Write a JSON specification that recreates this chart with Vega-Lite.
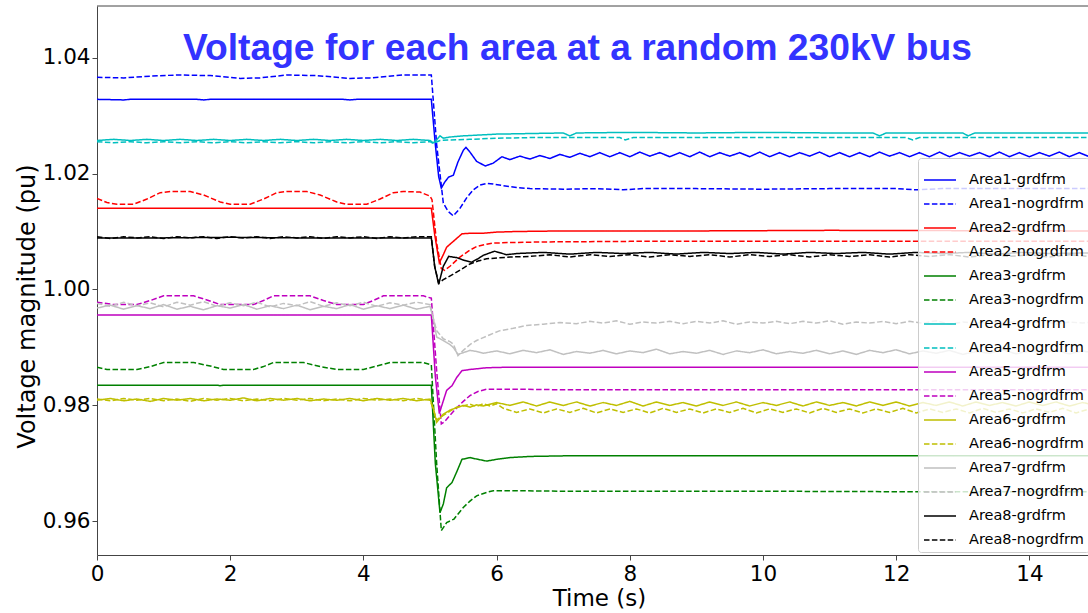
{
  "$schema": "https://vega.github.io/schema/vega-lite/v6.json",
  "width": 991,
  "height": 549,
  "autosize": {"type": "none"},
  "padding": {"left": 97, "top": 6, "right": 0, "bottom": 58},
  "background": "white",
  "config": {"view": {"stroke": null}, "font": "DejaVu Sans"},
  "title": {"text": "Voltage for each area at a random 230kV bus", "font": "Liberation Sans", "fontSize": 37.2, "fontWeight": "bold", "color": "#3333ff", "anchor": "start", "frame": "group", "dx": 86, "offset": -92, "baseline": "alphabetic"},
  "datasets": {
    "a1g": [{"t":0,"v":1.0328},{"t":0.4,"v":1.0327},{"t":0.5,"v":1.0328},{"t":1.5,"v":1.0328},{"t":1.6,"v":1.0327},{"t":1.7,"v":1.0328},{"t":3.7,"v":1.0328},{"t":3.8,"v":1.0327},{"t":3.9,"v":1.0328},{"t":5.02,"v":1.0328},{"t":5.08,"v":1.025},{"t":5.13,"v":1.0195},{"t":5.17,"v":1.0175},{"t":5.22,"v":1.0185},{"t":5.28,"v":1.0194},{"t":5.35,"v":1.0197},{"t":5.42,"v":1.022},{"t":5.5,"v":1.024},{"t":5.54,"v":1.0245},{"t":5.6,"v":1.0237},{"t":5.7,"v":1.0221},{"t":5.83,"v":1.0213},{"t":5.95,"v":1.0218},{"t":6.08,"v":1.0229},{"t":6.2,"v":1.0224},{"t":6.35,"v":1.023},{"t":6.5,"v":1.0225},{"t":6.65,"v":1.0231},{"t":6.8,"v":1.0226},{"t":6.95,"v":1.0233},{"t":7.1,"v":1.0228},{"t":7.25,"v":1.0235},{"t":7.4,"v":1.0229},{"t":7.55,"v":1.0236},{"t":7.7,"v":1.0229},{"t":7.85,"v":1.0236},{"t":8.0,"v":1.0229},{"t":8.15,"v":1.0237},{"t":8.3,"v":1.023},{"t":8.45,"v":1.0236},{"t":8.6,"v":1.0229},{"t":8.75,"v":1.0236},{"t":8.9,"v":1.0229},{"t":9.05,"v":1.0237},{"t":9.2,"v":1.0229},{"t":9.35,"v":1.0236},{"t":9.5,"v":1.023},{"t":9.65,"v":1.0236},{"t":9.8,"v":1.0229},{"t":9.95,"v":1.0237},{"t":10.1,"v":1.0229},{"t":10.25,"v":1.0236},{"t":10.4,"v":1.0229},{"t":10.55,"v":1.0236},{"t":10.7,"v":1.023},{"t":10.85,"v":1.0237},{"t":11.0,"v":1.0229},{"t":11.15,"v":1.0236},{"t":11.3,"v":1.0229},{"t":11.45,"v":1.0236},{"t":11.6,"v":1.0229},{"t":11.75,"v":1.0237},{"t":11.9,"v":1.023},{"t":12.05,"v":1.0236},{"t":12.2,"v":1.0229},{"t":12.35,"v":1.0236},{"t":12.5,"v":1.0229},{"t":12.65,"v":1.0237},{"t":12.8,"v":1.0229},{"t":12.95,"v":1.0236},{"t":13.1,"v":1.023},{"t":13.25,"v":1.0236},{"t":13.4,"v":1.0229},{"t":13.55,"v":1.0237},{"t":13.7,"v":1.0229},{"t":13.85,"v":1.0236},{"t":14.0,"v":1.0229},{"t":14.15,"v":1.0236},{"t":14.3,"v":1.023},{"t":14.45,"v":1.0237},{"t":14.6,"v":1.0229},{"t":14.75,"v":1.0236},{"t":14.9,"v":1.0229}],
    "a1n": [{"t":0,"v":1.0366},{"t":0.4,"v":1.0365},{"t":0.8,"v":1.0368},{"t":1.2,"v":1.037},{"t":1.7,"v":1.0369},{"t":2.15,"v":1.0364},{"t":2.45,"v":1.0365},{"t":2.85,"v":1.037},{"t":3.3,"v":1.0369},{"t":3.8,"v":1.0364},{"t":4.1,"v":1.0365},{"t":4.6,"v":1.037},{"t":5.02,"v":1.037},{"t":5.1,"v":1.025},{"t":5.2,"v":1.0149},{"t":5.27,"v":1.0135},{"t":5.35,"v":1.0127},{"t":5.45,"v":1.014},{"t":5.55,"v":1.0158},{"t":5.65,"v":1.0172},{"t":5.75,"v":1.018},{"t":5.85,"v":1.0183},{"t":5.95,"v":1.0182},{"t":6.1,"v":1.0179},{"t":6.3,"v":1.0176},{"t":6.5,"v":1.0174},{"t":7.0,"v":1.0173},{"t":7.5,"v":1.0174},{"t":7.9,"v":1.0172},{"t":8.2,"v":1.0174},{"t":9,"v":1.0174},{"t":10,"v":1.0173},{"t":11,"v":1.0174},{"t":12,"v":1.0174},{"t":12.3,"v":1.0172},{"t":12.7,"v":1.0174},{"t":13.5,"v":1.0174},{"t":14.9,"v":1.0174}],
    "a2g": [{"t":0,"v":1.014},{"t":5.02,"v":1.014},{"t":5.07,"v":1.0095},{"t":5.14,"v":1.0046},{"t":5.2,"v":1.006},{"t":5.25,"v":1.0073},{"t":5.35,"v":1.0083},{"t":5.48,"v":1.0096},{"t":5.6,"v":1.0097},{"t":5.8,"v":1.0097},{"t":6,"v":1.0099},{"t":6.3,"v":1.01},{"t":7,"v":1.0101},{"t":9,"v":1.0101},{"t":11,"v":1.0102},{"t":14.9,"v":1.0101}],
    "a2n": [{"t":0,"v":1.0157},{"t":0.15,"v":1.015},{"t":0.3,"v":1.0147},{"t":0.55,"v":1.0147},{"t":0.75,"v":1.0156},{"t":0.95,"v":1.0167},{"t":1.1,"v":1.0169},{"t":1.4,"v":1.0169},{"t":1.6,"v":1.0163},{"t":1.85,"v":1.0151},{"t":2.0,"v":1.0147},{"t":2.3,"v":1.0147},{"t":2.5,"v":1.0156},{"t":2.7,"v":1.0167},{"t":2.85,"v":1.0169},{"t":3.15,"v":1.0169},{"t":3.35,"v":1.0163},{"t":3.6,"v":1.0151},{"t":3.75,"v":1.0147},{"t":4.05,"v":1.0147},{"t":4.25,"v":1.0156},{"t":4.45,"v":1.0167},{"t":4.6,"v":1.0169},{"t":4.85,"v":1.0168},{"t":5.0,"v":1.0161},{"t":5.03,"v":1.0155},{"t":5.1,"v":1.008},{"t":5.17,"v":1.0036},{"t":5.22,"v":1.0033},{"t":5.3,"v":1.004},{"t":5.45,"v":1.0056},{"t":5.6,"v":1.0068},{"t":5.7,"v":1.0074},{"t":5.85,"v":1.0078},{"t":5.95,"v":1.008},{"t":6.2,"v":1.0081},{"t":6.7,"v":1.0082},{"t":8,"v":1.0083},{"t":10,"v":1.0083},{"t":12,"v":1.0083},{"t":14.9,"v":1.0083}],
    "a3g": [{"t":0,"v":0.9835},{"t":1.8,"v":0.9835},{"t":1.85,"v":0.9834},{"t":1.9,"v":0.9835},{"t":5.02,"v":0.9835},{"t":5.08,"v":0.97},{"t":5.15,"v":0.9615},{"t":5.2,"v":0.963},{"t":5.25,"v":0.9658},{"t":5.33,"v":0.9667},{"t":5.4,"v":0.9685},{"t":5.48,"v":0.9707},{"t":5.6,"v":0.971},{"t":5.72,"v":0.9707},{"t":5.85,"v":0.9704},{"t":6.0,"v":0.9707},{"t":6.2,"v":0.971},{"t":6.5,"v":0.9712},{"t":7,"v":0.9713},{"t":9,"v":0.9713},{"t":11,"v":0.9713},{"t":13,"v":0.9713},{"t":14.9,"v":0.9713}],
    "a3n": [{"t":0,"v":0.9866},{"t":0.15,"v":0.9862},{"t":0.6,"v":0.9862},{"t":0.8,"v":0.9867},{"t":1.0,"v":0.9874},{"t":1.45,"v":0.9874},{"t":1.7,"v":0.9868},{"t":1.9,"v":0.9862},{"t":2.35,"v":0.9862},{"t":2.5,"v":0.9867},{"t":2.65,"v":0.9874},{"t":3.1,"v":0.9874},{"t":3.35,"v":0.9867},{"t":3.6,"v":0.9862},{"t":4.0,"v":0.9862},{"t":4.2,"v":0.9868},{"t":4.4,"v":0.9874},{"t":4.9,"v":0.9874},{"t":5.02,"v":0.987},{"t":5.1,"v":0.97},{"t":5.17,"v":0.9584},{"t":5.25,"v":0.9598},{"t":5.36,"v":0.9604},{"t":5.5,"v":0.9624},{"t":5.6,"v":0.9635},{"t":5.7,"v":0.9644},{"t":5.85,"v":0.965},{"t":5.95,"v":0.9653},{"t":6.2,"v":0.9653},{"t":7,"v":0.9652},{"t":8,"v":0.9652},{"t":10,"v":0.9652},{"t":12.5,"v":0.9651},{"t":14.9,"v":0.9651}],
    "a4g": [{"t":0,"v":1.0257},{"t":0.25,"v":1.0259},{"t":0.5,"v":1.0257},{"t":0.75,"v":1.0259},{"t":1,"v":1.0257},{"t":1.25,"v":1.0259},{"t":1.5,"v":1.0257},{"t":1.75,"v":1.0259},{"t":2,"v":1.0257},{"t":2.25,"v":1.0259},{"t":2.5,"v":1.0257},{"t":2.75,"v":1.0259},{"t":3,"v":1.0257},{"t":3.25,"v":1.0259},{"t":3.5,"v":1.0257},{"t":3.75,"v":1.0259},{"t":4,"v":1.0257},{"t":4.25,"v":1.0259},{"t":4.5,"v":1.0257},{"t":4.75,"v":1.0259},{"t":5.0,"v":1.0257},{"t":5.05,"v":1.0253},{"t":5.1,"v":1.0258},{"t":5.15,"v":1.0265},{"t":5.2,"v":1.0261},{"t":5.3,"v":1.0263},{"t":5.5,"v":1.0265},{"t":6,"v":1.0268},{"t":6.5,"v":1.0269},{"t":7,"v":1.027},{"t":7.1,"v":1.0265},{"t":7.2,"v":1.027},{"t":8,"v":1.0271},{"t":9,"v":1.027},{"t":10,"v":1.0271},{"t":11,"v":1.027},{"t":11.65,"v":1.027},{"t":11.75,"v":1.0265},{"t":11.85,"v":1.027},{"t":13,"v":1.027},{"t":13.08,"v":1.0265},{"t":13.18,"v":1.027},{"t":14.9,"v":1.027}],
    "a4n": [{"t":0,"v":1.0255},{"t":0.25,"v":1.0253},{"t":0.5,"v":1.0255},{"t":0.75,"v":1.0253},{"t":1,"v":1.0255},{"t":1.25,"v":1.0253},{"t":1.5,"v":1.0255},{"t":1.75,"v":1.0253},{"t":2,"v":1.0255},{"t":2.25,"v":1.0253},{"t":2.5,"v":1.0255},{"t":2.75,"v":1.0253},{"t":3,"v":1.0255},{"t":3.25,"v":1.0253},{"t":3.5,"v":1.0255},{"t":3.75,"v":1.0253},{"t":4,"v":1.0255},{"t":4.25,"v":1.0253},{"t":4.5,"v":1.0255},{"t":4.75,"v":1.0253},{"t":5.0,"v":1.0255},{"t":5.05,"v":1.0252},{"t":5.15,"v":1.0257},{"t":5.3,"v":1.0258},{"t":5.6,"v":1.0259},{"t":6,"v":1.0261},{"t":6.5,"v":1.0262},{"t":7.85,"v":1.0262},{"t":7.93,"v":1.0258},{"t":8.05,"v":1.0262},{"t":12.15,"v":1.0262},{"t":12.25,"v":1.0258},{"t":12.35,"v":1.0262},{"t":14.9,"v":1.0262}],
    "a5g": [{"t":0,"v":0.9956},{"t":5.02,"v":0.9956},{"t":5.08,"v":0.985},{"t":5.14,"v":0.9786},{"t":5.2,"v":0.9808},{"t":5.25,"v":0.9826},{"t":5.33,"v":0.9834},{"t":5.4,"v":0.9848},{"t":5.48,"v":0.986},{"t":5.6,"v":0.9862},{"t":5.85,"v":0.9865},{"t":6.2,"v":0.9866},{"t":10,"v":0.9866},{"t":14.9,"v":0.9866}],
    "a5n": [{"t":0,"v":0.9978},{"t":0.25,"v":0.9974},{"t":0.6,"v":0.9974},{"t":0.8,"v":0.9981},{"t":1.0,"v":0.9989},{"t":1.45,"v":0.9989},{"t":1.65,"v":0.9982},{"t":1.85,"v":0.9974},{"t":2.35,"v":0.9974},{"t":2.5,"v":0.9981},{"t":2.65,"v":0.9989},{"t":3.2,"v":0.9989},{"t":3.4,"v":0.9981},{"t":3.6,"v":0.9974},{"t":4.0,"v":0.9974},{"t":4.15,"v":0.9981},{"t":4.3,"v":0.9989},{"t":4.9,"v":0.9989},{"t":5.02,"v":0.9985},{"t":5.1,"v":0.986},{"t":5.17,"v":0.9768},{"t":5.22,"v":0.9772},{"t":5.36,"v":0.9791},{"t":5.5,"v":0.9807},{"t":5.6,"v":0.9817},{"t":5.72,"v":0.9824},{"t":5.85,"v":0.9828},{"t":6.35,"v":0.9828},{"t":7,"v":0.9827},{"t":10,"v":0.9827},{"t":14.9,"v":0.9827}],
    "a6g": [{"t":0,"v":0.9809},{"t":0.2,"v":0.9812},{"t":0.4,"v":0.9808},{"t":0.6,"v":0.9811},{"t":0.8,"v":0.9807},{"t":1.0,"v":0.9812},{"t":1.2,"v":0.9809},{"t":1.4,"v":0.9812},{"t":1.6,"v":0.9808},{"t":1.8,"v":0.9811},{"t":2.0,"v":0.9809},{"t":2.2,"v":0.9813},{"t":2.4,"v":0.9808},{"t":2.6,"v":0.9812},{"t":2.8,"v":0.9809},{"t":3.0,"v":0.9812},{"t":3.2,"v":0.9808},{"t":3.4,"v":0.9811},{"t":3.6,"v":0.9809},{"t":3.8,"v":0.9812},{"t":4.0,"v":0.9808},{"t":4.2,"v":0.9812},{"t":4.4,"v":0.9809},{"t":4.6,"v":0.9812},{"t":4.8,"v":0.9808},{"t":5.0,"v":0.9811},{"t":5.05,"v":0.9795},{"t":5.1,"v":0.9771},{"t":5.2,"v":0.9785},{"t":5.3,"v":0.9792},{"t":5.4,"v":0.9796},{"t":5.5,"v":0.98},{"t":5.6,"v":0.9797},{"t":5.7,"v":0.9801},{"t":5.8,"v":0.9799},{"t":6.0,"v":0.9805},{"t":6.2,"v":0.98},{"t":6.4,"v":0.9806},{"t":6.6,"v":0.9799},{"t":6.8,"v":0.9806},{"t":7.0,"v":0.98},{"t":7.2,"v":0.9806},{"t":7.4,"v":0.9799},{"t":7.6,"v":0.9805},{"t":7.8,"v":0.98},{"t":8.0,"v":0.9807},{"t":8.2,"v":0.9799},{"t":8.4,"v":0.9806},{"t":8.6,"v":0.98},{"t":8.8,"v":0.9805},{"t":9.0,"v":0.9799},{"t":9.2,"v":0.9806},{"t":9.4,"v":0.98},{"t":9.6,"v":0.9806},{"t":9.8,"v":0.9799},{"t":10.0,"v":0.9805},{"t":10.2,"v":0.98},{"t":10.4,"v":0.9806},{"t":10.6,"v":0.9799},{"t":10.8,"v":0.9806},{"t":11.0,"v":0.98},{"t":11.2,"v":0.9805},{"t":11.4,"v":0.9799},{"t":11.6,"v":0.9806},{"t":11.8,"v":0.98},{"t":12.0,"v":0.9806},{"t":12.2,"v":0.9799},{"t":12.4,"v":0.9805},{"t":12.6,"v":0.98},{"t":12.8,"v":0.9806},{"t":13.0,"v":0.9799},{"t":13.2,"v":0.9806},{"t":13.4,"v":0.98},{"t":13.6,"v":0.9805},{"t":13.8,"v":0.9799},{"t":14.0,"v":0.9806},{"t":14.2,"v":0.98},{"t":14.4,"v":0.9806},{"t":14.6,"v":0.9799},{"t":14.8,"v":0.9805},{"t":15.0,"v":0.98}],
    "a6n": [{"t":0,"v":0.9811},{"t":0.2,"v":0.9808},{"t":0.4,"v":0.9812},{"t":0.6,"v":0.9809},{"t":0.8,"v":0.9812},{"t":1.0,"v":0.9808},{"t":1.2,"v":0.9811},{"t":1.4,"v":0.9807},{"t":1.6,"v":0.9812},{"t":1.8,"v":0.9809},{"t":2.0,"v":0.9812},{"t":2.2,"v":0.9808},{"t":2.4,"v":0.9811},{"t":2.6,"v":0.9808},{"t":2.8,"v":0.9812},{"t":3.0,"v":0.9809},{"t":3.2,"v":0.9812},{"t":3.4,"v":0.9808},{"t":3.6,"v":0.9811},{"t":3.8,"v":0.9808},{"t":4.0,"v":0.9812},{"t":4.2,"v":0.9809},{"t":4.4,"v":0.9811},{"t":4.6,"v":0.9808},{"t":4.8,"v":0.9812},{"t":5.0,"v":0.9809},{"t":5.05,"v":0.9793},{"t":5.1,"v":0.9775},{"t":5.2,"v":0.9783},{"t":5.3,"v":0.979},{"t":5.4,"v":0.9797},{"t":5.5,"v":0.9799},{"t":5.6,"v":0.9802},{"t":5.7,"v":0.9798},{"t":5.8,"v":0.9803},{"t":5.9,"v":0.9799},{"t":6.0,"v":0.9803},{"t":6.1,"v":0.9795},{"t":6.3,"v":0.9788},{"t":6.5,"v":0.9794},{"t":6.7,"v":0.9787},{"t":6.9,"v":0.9794},{"t":7.1,"v":0.9788},{"t":7.3,"v":0.9795},{"t":7.5,"v":0.9787},{"t":7.7,"v":0.9794},{"t":7.9,"v":0.9788},{"t":8.1,"v":0.9794},{"t":8.3,"v":0.9787},{"t":8.5,"v":0.9795},{"t":8.7,"v":0.9788},{"t":8.9,"v":0.9794},{"t":9.1,"v":0.9787},{"t":9.3,"v":0.9794},{"t":9.5,"v":0.9788},{"t":9.7,"v":0.9795},{"t":9.9,"v":0.9787},{"t":10.1,"v":0.9794},{"t":10.3,"v":0.9788},{"t":10.5,"v":0.9794},{"t":10.7,"v":0.9787},{"t":10.9,"v":0.9795},{"t":11.1,"v":0.9788},{"t":11.3,"v":0.9794},{"t":11.5,"v":0.9787},{"t":11.7,"v":0.9794},{"t":11.9,"v":0.9788},{"t":12.1,"v":0.9795},{"t":12.3,"v":0.9787},{"t":12.5,"v":0.9794},{"t":12.7,"v":0.9788},{"t":12.9,"v":0.9794},{"t":13.1,"v":0.9787},{"t":13.3,"v":0.9795},{"t":13.5,"v":0.9788},{"t":13.7,"v":0.9794},{"t":13.9,"v":0.9787},{"t":14.1,"v":0.9794},{"t":14.3,"v":0.9788},{"t":14.5,"v":0.9795},{"t":14.7,"v":0.9787},{"t":14.9,"v":0.9794}],
    "a7g": [{"t":0,"v":0.9968},{"t":0.2,"v":0.9973},{"t":0.4,"v":0.9966},{"t":0.6,"v":0.9972},{"t":0.8,"v":0.9967},{"t":1.0,"v":0.9974},{"t":1.2,"v":0.9966},{"t":1.4,"v":0.9971},{"t":1.6,"v":0.9965},{"t":1.8,"v":0.9972},{"t":2.0,"v":0.9968},{"t":2.2,"v":0.9974},{"t":2.4,"v":0.9966},{"t":2.6,"v":0.9972},{"t":2.8,"v":0.9967},{"t":3.0,"v":0.9973},{"t":3.2,"v":0.9965},{"t":3.4,"v":0.9971},{"t":3.6,"v":0.9967},{"t":3.8,"v":0.9974},{"t":4.0,"v":0.9966},{"t":4.2,"v":0.9972},{"t":4.4,"v":0.9967},{"t":4.6,"v":0.9973},{"t":4.8,"v":0.9966},{"t":5.0,"v":0.9971},{"t":5.05,"v":0.995},{"t":5.1,"v":0.9918},{"t":5.2,"v":0.9912},{"t":5.3,"v":0.9905},{"t":5.35,"v":0.99},{"t":5.42,"v":0.9888},{"t":5.5,"v":0.9891},{"t":5.6,"v":0.9895},{"t":5.7,"v":0.9893},{"t":5.8,"v":0.989},{"t":6.0,"v":0.9894},{"t":6.2,"v":0.9889},{"t":6.4,"v":0.9895},{"t":6.6,"v":0.9891},{"t":6.8,"v":0.9896},{"t":7.0,"v":0.9888},{"t":7.2,"v":0.9893},{"t":7.4,"v":0.989},{"t":7.6,"v":0.9895},{"t":7.8,"v":0.9889},{"t":8.0,"v":0.9894},{"t":8.2,"v":0.9891},{"t":8.4,"v":0.9897},{"t":8.6,"v":0.9889},{"t":8.8,"v":0.9893},{"t":9.0,"v":0.989},{"t":9.2,"v":0.9895},{"t":9.4,"v":0.9888},{"t":9.6,"v":0.9894},{"t":9.8,"v":0.9891},{"t":10.0,"v":0.9896},{"t":10.2,"v":0.9889},{"t":10.4,"v":0.9893},{"t":10.6,"v":0.989},{"t":10.8,"v":0.9895},{"t":11.0,"v":0.9889},{"t":11.2,"v":0.9894},{"t":11.4,"v":0.9888},{"t":11.6,"v":0.9895},{"t":11.8,"v":0.9891},{"t":12.0,"v":0.9896},{"t":12.2,"v":0.9889},{"t":12.4,"v":0.9894},{"t":12.6,"v":0.989},{"t":12.8,"v":0.9895},{"t":13.0,"v":0.9888},{"t":13.2,"v":0.9893},{"t":13.4,"v":0.989},{"t":13.6,"v":0.9896},{"t":13.8,"v":0.9889},{"t":14.0,"v":0.9894},{"t":14.2,"v":0.9891},{"t":14.4,"v":0.9895},{"t":14.6,"v":0.9889},{"t":14.8,"v":0.9894},{"t":15.0,"v":0.989}],
    "a7n": [{"t":0,"v":0.9976},{"t":0.2,"v":0.9971},{"t":0.4,"v":0.9978},{"t":0.6,"v":0.9972},{"t":0.8,"v":0.9977},{"t":1.0,"v":0.997},{"t":1.2,"v":0.9978},{"t":1.4,"v":0.9973},{"t":1.6,"v":0.9979},{"t":1.8,"v":0.9971},{"t":2.0,"v":0.9977},{"t":2.2,"v":0.9972},{"t":2.4,"v":0.9978},{"t":2.6,"v":0.997},{"t":2.8,"v":0.9976},{"t":3.0,"v":0.9972},{"t":3.2,"v":0.9979},{"t":3.4,"v":0.9971},{"t":3.6,"v":0.9977},{"t":3.8,"v":0.9972},{"t":4.0,"v":0.9978},{"t":4.2,"v":0.9971},{"t":4.4,"v":0.9977},{"t":4.6,"v":0.9973},{"t":4.8,"v":0.9978},{"t":5.0,"v":0.9974},{"t":5.05,"v":0.995},{"t":5.1,"v":0.9929},{"t":5.2,"v":0.9915},{"t":5.3,"v":0.991},{"t":5.35,"v":0.9906},{"t":5.42,"v":0.9886},{"t":5.5,"v":0.9895},{"t":5.6,"v":0.9905},{"t":5.7,"v":0.9912},{"t":5.8,"v":0.9917},{"t":5.9,"v":0.9922},{"t":6.05,"v":0.9929},{"t":6.25,"v":0.9933},{"t":6.45,"v":0.9938},{"t":6.7,"v":0.994},{"t":6.95,"v":0.9943},{"t":7.2,"v":0.9941},{"t":7.4,"v":0.9945},{"t":7.6,"v":0.9942},{"t":7.8,"v":0.9946},{"t":8.0,"v":0.994},{"t":8.2,"v":0.9944},{"t":8.4,"v":0.9942},{"t":8.6,"v":0.9945},{"t":8.8,"v":0.9941},{"t":9.0,"v":0.9945},{"t":9.2,"v":0.9942},{"t":9.4,"v":0.9946},{"t":9.6,"v":0.994},{"t":9.8,"v":0.9944},{"t":10.0,"v":0.9942},{"t":10.2,"v":0.9945},{"t":10.4,"v":0.9941},{"t":10.6,"v":0.9945},{"t":10.8,"v":0.9942},{"t":11.0,"v":0.9946},{"t":11.2,"v":0.994},{"t":11.4,"v":0.9944},{"t":11.6,"v":0.9942},{"t":11.8,"v":0.9945},{"t":12.0,"v":0.9941},{"t":12.2,"v":0.9945},{"t":12.4,"v":0.9942},{"t":12.6,"v":0.9946},{"t":12.8,"v":0.994},{"t":13.0,"v":0.9944},{"t":13.2,"v":0.9942},{"t":13.4,"v":0.9945},{"t":13.6,"v":0.9941},{"t":13.8,"v":0.9945},{"t":14.0,"v":0.9942},{"t":14.2,"v":0.9946},{"t":14.4,"v":0.994},{"t":14.6,"v":0.9944},{"t":14.8,"v":0.9942},{"t":15.0,"v":0.9945}],
    "a8g": [{"t":0,"v":1.0089},{"t":1,"v":1.0089},{"t":2,"v":1.009},{"t":3,"v":1.0089},{"t":4,"v":1.0089},{"t":5.02,"v":1.0089},{"t":5.07,"v":1.004},{"t":5.13,"v":1.0009},{"t":5.2,"v":1.004},{"t":5.28,"v":1.0057},{"t":5.4,"v":1.0055},{"t":5.52,"v":1.005},{"t":5.62,"v":1.0047},{"t":5.72,"v":1.0053},{"t":5.8,"v":1.0059},{"t":5.97,"v":1.0066},{"t":6.15,"v":1.006},{"t":6.3,"v":1.0062},{"t":6.7,"v":1.0064},{"t":7.1,"v":1.0061},{"t":7.5,"v":1.0064},{"t":7.9,"v":1.0062},{"t":8.3,"v":1.0064},{"t":8.7,"v":1.0061},{"t":9.1,"v":1.0064},{"t":9.5,"v":1.0062},{"t":9.9,"v":1.0064},{"t":10.3,"v":1.0061},{"t":10.7,"v":1.0064},{"t":11.1,"v":1.0062},{"t":11.5,"v":1.0064},{"t":11.9,"v":1.0061},{"t":12.3,"v":1.0064},{"t":12.7,"v":1.0062},{"t":13.1,"v":1.0064},{"t":13.5,"v":1.0061},{"t":13.9,"v":1.0064},{"t":14.3,"v":1.0062},{"t":14.9,"v":1.0063}],
    "a8n": [{"t":0,"v":1.0091},{"t":0.2,"v":1.0088},{"t":0.4,"v":1.0091},{"t":0.6,"v":1.0089},{"t":0.8,"v":1.0091},{"t":1.0,"v":1.0088},{"t":1.2,"v":1.0091},{"t":1.4,"v":1.0089},{"t":1.6,"v":1.0091},{"t":1.8,"v":1.0088},{"t":2.0,"v":1.0091},{"t":2.2,"v":1.0089},{"t":2.4,"v":1.0091},{"t":2.6,"v":1.0088},{"t":2.8,"v":1.0091},{"t":3.0,"v":1.0089},{"t":3.2,"v":1.0091},{"t":3.4,"v":1.0088},{"t":3.6,"v":1.0091},{"t":3.8,"v":1.0089},{"t":4.0,"v":1.0091},{"t":4.2,"v":1.0088},{"t":4.4,"v":1.0091},{"t":4.6,"v":1.0089},{"t":4.8,"v":1.0091},{"t":5.02,"v":1.0091},{"t":5.07,"v":1.004},{"t":5.13,"v":1.0011},{"t":5.2,"v":1.0017},{"t":5.36,"v":1.0027},{"t":5.5,"v":1.0037},{"t":5.6,"v":1.0044},{"t":5.72,"v":1.0049},{"t":5.85,"v":1.0053},{"t":6.2,"v":1.0056},{"t":6.5,"v":1.0057},{"t":6.8,"v":1.006},{"t":7.1,"v":1.0056},{"t":7.4,"v":1.006},{"t":7.7,"v":1.0057},{"t":8.0,"v":1.006},{"t":8.3,"v":1.0056},{"t":8.6,"v":1.006},{"t":8.9,"v":1.0057},{"t":9.2,"v":1.006},{"t":9.5,"v":1.0056},{"t":9.8,"v":1.006},{"t":10.1,"v":1.0057},{"t":10.4,"v":1.006},{"t":10.7,"v":1.0056},{"t":11.0,"v":1.006},{"t":11.3,"v":1.0057},{"t":11.6,"v":1.006},{"t":11.9,"v":1.0056},{"t":12.2,"v":1.006},{"t":12.5,"v":1.0057},{"t":12.8,"v":1.006},{"t":13.1,"v":1.0056},{"t":13.4,"v":1.006},{"t":13.7,"v":1.0057},{"t":14.0,"v":1.006},{"t":14.3,"v":1.0056},{"t":14.6,"v":1.006},{"t":14.9,"v":1.0057}]
  },
  "layer": [
    {
      "encoding": {
        "x": {"field": "t", "type": "quantitative", "scale": {"domain": [0, 14.88], "nice": false, "zero": false},
          "axis": {"values": [0, 2, 4, 6, 8, 10, 12, 14], "format": "d", "title": "Time (s)", "titleX": 502, "titleFont": "DejaVu Sans", "titleFontSize": 23, "titleFontWeight": "normal", "titleColor": "#000", "titlePadding": 3, "labelFont": "DejaVu Sans", "labelFontSize": 21.5, "labelColor": "#000", "labelPadding": 3, "tickSize": 5, "tickColor": "#444", "domainColor": "#444", "grid": false, "labelFlush": false}},
        "y": {"field": "v", "type": "quantitative", "scale": {"domain": [0.9542, 1.0489], "nice": false, "zero": false},
          "axis": {"values": [0.96, 0.98, 1.0, 1.02, 1.04], "format": ".2f", "title": "Voltage magnitude (pu)", "titleY": 300, "titleFont": "DejaVu Sans", "titleFontSize": 24, "titleFontWeight": "normal", "titleColor": "#000", "titlePadding": 3, "labelFont": "DejaVu Sans", "labelFontSize": 21.5, "labelColor": "#000", "labelPadding": 2, "tickSize": 5, "tickColor": "#444", "domainColor": "#444", "grid": false, "labelFlush": false}}
      },
      "layer": [
        {"data": {"name": "a1g"}, "mark": {"type": "line", "strokeWidth": 1.5, "clip": true}, "encoding": {
          "color": {"datum": "Area1-grdfrm", "type": "nominal",
            "scale": {"domain": ["Area1-grdfrm","Area1-nogrdfrm","Area2-grdfrm","Area2-nogrdfrm","Area3-grdfrm","Area3-nogrdfrm","Area4-grdfrm","Area4-nogrdfrm","Area5-grdfrm","Area5-nogrdfrm","Area6-grdfrm","Area6-nogrdfrm","Area7-grdfrm","Area7-nogrdfrm","Area8-grdfrm","Area8-nogrdfrm"],
              "range": ["#0000ff","#0000ff","#ff0000","#ff0000","#008000","#008000","#00bfbf","#00bfbf","#bf00bf","#bf00bf","#bfbf00","#bfbf00","#c0c0c0","#c0c0c0","#000000","#000000"]},
            "legend": {"orient": "none", "legendX": 821, "legendY": 152, "title": null, "symbolType": "stroke", "symbolSize": 1024, "symbolStrokeWidth": 1.5, "labelFont": "DejaVu Sans", "labelFontSize": 14.5, "labelColor": "#000", "labelOffset": 12, "labelLimit": 300, "padding": 5, "rowPadding": -0.3, "fillColor": "rgba(255,255,255,0.8)", "strokeColor": "#cccccc", "cornerRadius": 3}},
          "strokeDash": {"datum": "Area1-grdfrm", "type": "nominal",
            "scale": {"domain": ["Area1-grdfrm","Area1-nogrdfrm","Area2-grdfrm","Area2-nogrdfrm","Area3-grdfrm","Area3-nogrdfrm","Area4-grdfrm","Area4-nogrdfrm","Area5-grdfrm","Area5-nogrdfrm","Area6-grdfrm","Area6-nogrdfrm","Area7-grdfrm","Area7-nogrdfrm","Area8-grdfrm","Area8-nogrdfrm"],
              "range": [[1,0],[5.5,2.4],[1,0],[5.5,2.4],[1,0],[5.5,2.4],[1,0],[5.5,2.4],[1,0],[5.5,2.4],[1,0],[5.5,2.4],[1,0],[5.5,2.4],[1,0],[5.5,2.4]]},
            "legend": {"orient": "none", "legendX": 821, "legendY": 152, "title": null, "symbolType": "stroke", "symbolSize": 1024, "symbolStrokeWidth": 1.5, "labelFont": "DejaVu Sans", "labelFontSize": 14.5, "labelColor": "#000", "labelOffset": 12, "labelLimit": 300, "padding": 5, "rowPadding": -0.3, "fillColor": "rgba(255,255,255,0.8)", "strokeColor": "#cccccc", "cornerRadius": 3}}}},
        {"data": {"name": "a1n"}, "mark": {"type": "line", "strokeWidth": 1.5, "clip": true}, "encoding": {"color": {"datum": "Area1-nogrdfrm", "type": "nominal"}, "strokeDash": {"datum": "Area1-nogrdfrm", "type": "nominal"}}},
        {"data": {"name": "a2g"}, "mark": {"type": "line", "strokeWidth": 1.5, "clip": true}, "encoding": {"color": {"datum": "Area2-grdfrm", "type": "nominal"}, "strokeDash": {"datum": "Area2-grdfrm", "type": "nominal"}}},
        {"data": {"name": "a2n"}, "mark": {"type": "line", "strokeWidth": 1.5, "clip": true}, "encoding": {"color": {"datum": "Area2-nogrdfrm", "type": "nominal"}, "strokeDash": {"datum": "Area2-nogrdfrm", "type": "nominal"}}},
        {"data": {"name": "a3g"}, "mark": {"type": "line", "strokeWidth": 1.5, "clip": true}, "encoding": {"color": {"datum": "Area3-grdfrm", "type": "nominal"}, "strokeDash": {"datum": "Area3-grdfrm", "type": "nominal"}}},
        {"data": {"name": "a3n"}, "mark": {"type": "line", "strokeWidth": 1.5, "clip": true}, "encoding": {"color": {"datum": "Area3-nogrdfrm", "type": "nominal"}, "strokeDash": {"datum": "Area3-nogrdfrm", "type": "nominal"}}},
        {"data": {"name": "a4g"}, "mark": {"type": "line", "strokeWidth": 1.5, "clip": true}, "encoding": {"color": {"datum": "Area4-grdfrm", "type": "nominal"}, "strokeDash": {"datum": "Area4-grdfrm", "type": "nominal"}}},
        {"data": {"name": "a4n"}, "mark": {"type": "line", "strokeWidth": 1.5, "clip": true}, "encoding": {"color": {"datum": "Area4-nogrdfrm", "type": "nominal"}, "strokeDash": {"datum": "Area4-nogrdfrm", "type": "nominal"}}},
        {"data": {"name": "a5g"}, "mark": {"type": "line", "strokeWidth": 1.5, "clip": true}, "encoding": {"color": {"datum": "Area5-grdfrm", "type": "nominal"}, "strokeDash": {"datum": "Area5-grdfrm", "type": "nominal"}}},
        {"data": {"name": "a5n"}, "mark": {"type": "line", "strokeWidth": 1.5, "clip": true}, "encoding": {"color": {"datum": "Area5-nogrdfrm", "type": "nominal"}, "strokeDash": {"datum": "Area5-nogrdfrm", "type": "nominal"}}},
        {"data": {"name": "a6g"}, "mark": {"type": "line", "strokeWidth": 1.5, "clip": true}, "encoding": {"color": {"datum": "Area6-grdfrm", "type": "nominal"}, "strokeDash": {"datum": "Area6-grdfrm", "type": "nominal"}}},
        {"data": {"name": "a6n"}, "mark": {"type": "line", "strokeWidth": 1.5, "clip": true}, "encoding": {"color": {"datum": "Area6-nogrdfrm", "type": "nominal"}, "strokeDash": {"datum": "Area6-nogrdfrm", "type": "nominal"}}},
        {"data": {"name": "a7g"}, "mark": {"type": "line", "strokeWidth": 1.5, "clip": true}, "encoding": {"color": {"datum": "Area7-grdfrm", "type": "nominal"}, "strokeDash": {"datum": "Area7-grdfrm", "type": "nominal"}}},
        {"data": {"name": "a7n"}, "mark": {"type": "line", "strokeWidth": 1.5, "clip": true}, "encoding": {"color": {"datum": "Area7-nogrdfrm", "type": "nominal"}, "strokeDash": {"datum": "Area7-nogrdfrm", "type": "nominal"}}},
        {"data": {"name": "a8g"}, "mark": {"type": "line", "strokeWidth": 1.5, "clip": true}, "encoding": {"color": {"datum": "Area8-grdfrm", "type": "nominal"}, "strokeDash": {"datum": "Area8-grdfrm", "type": "nominal"}}},
        {"data": {"name": "a8n"}, "mark": {"type": "line", "strokeWidth": 1.5, "clip": true}, "encoding": {"color": {"datum": "Area8-nogrdfrm", "type": "nominal"}, "strokeDash": {"datum": "Area8-nogrdfrm", "type": "nominal"}}}
      ]
    },
    {
      "data": {"values": [{}]},
      "mark": {"type": "rule", "color": "#444", "strokeWidth": 1},
      "encoding": {"y": {"datum": 1.0489, "type": "quantitative"}}
    }
  ]
}
